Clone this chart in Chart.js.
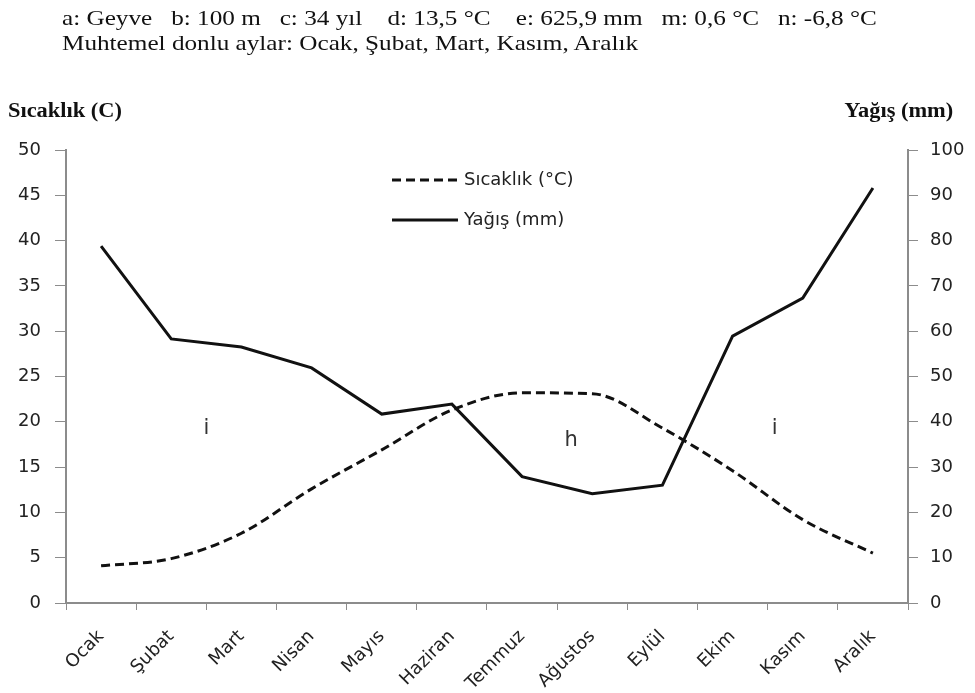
<!DOCTYPE html>
<html>
<head>
<meta charset="utf-8">
<script src="https://cdn.jsdelivr.net/npm/chart.js@4/dist/chart.umd.min.js"></script>
<style>
  body { margin: 0; background: #fff; }
  #wrap { position: relative; width: 975px; height: 693px; }
  #wrap canvas { position: absolute; left: 0; top: 0; }
  .hdr { position: absolute; left: 62px; font-family: "Liberation Serif", serif; font-size: 21px; color: #111; white-space: pre; transform: scaleX(1.2); transform-origin: left top; }
  .axt { position: absolute; top: 99px; font-family: "Liberation Serif", serif; font-weight: bold; font-size: 20px; color: #111; transform: scaleX(1.12); }
</style>
</head>
<body>
<div id="wrap">
  <canvas id="c" width="975" height="693"></canvas>
  <div class="hdr" style="top:6px;">a: Geyve   b: 100 m   c: 34 yıl    d: 13,5 °C    e: 625,9 mm   m: 0,6 °C   n: -6,8 °C</div>
  <div class="hdr" style="top:31px;">Muhtemel donlu aylar: Ocak, Şubat, Mart, Kasım, Aralık</div>
  <div class="axt" style="left:8px; transform-origin: left top;">Sıcaklık (C)</div>
  <div class="axt" style="right:22px; transform-origin: right top;">Yağış (mm)</div>
</div>
<script>
// Geyve climate diagram: temperature (dashed, left axis) and precipitation (solid, right axis)
const months = ['Ocak', 'Şubat', 'Mart', 'Nisan', 'Mayıs', 'Haziran', 'Temmuz', 'Ağustos', 'Eylül', 'Ekim', 'Kasım', 'Aralık'];
const temperature = [4.1, 4.9, 7.7, 12.6, 16.9, 21.3, 23.2, 23.1, 19.3, 14.6, 9.2, 5.5];
const precipitation = [78.8, 58.3, 56.5, 51.9, 41.7, 43.9, 27.9, 24.1, 26.0, 58.9, 67.3, 91.6];

// period letters (i = humid, h = dry) placed in category / temperature units
const periodLabels = ['i', 'h', 'i'];
const periodX = [1.5, 6.7, 9.6];
const periodY = [19.3, 17.9, 19.3];

const tickFont = { family: 'DejaVu Sans', size: 18 };
const axisGray = '#8c8c8c';

const overlay = {
    id: 'overlay',
    afterDatasetsDraw(chart) {
        const ctx = chart.ctx;
        const x = chart.scales.x, y = chart.scales.y;
        ctx.save();
        ctx.fillStyle = '#333';
        ctx.font = '21px "DejaVu Sans"';
        ctx.textAlign = 'center';
        ctx.textBaseline = 'middle';
        periodLabels.forEach((t, i) => {
            ctx.fillText(t, x.getPixelForValue(periodX[i]), y.getPixelForValue(periodY[i]));
        });

        // legend inside the plot
        const lx = x.left + 326, ly = y.top + 30;
        ctx.font = '18px "DejaVu Sans"';
        ctx.textAlign = 'left';
        ctx.fillStyle = '#222';
        chart.data.datasets.forEach((ds, i) => {
            const yy = ly + i * 40;
            ctx.strokeStyle = ds.borderColor;
            ctx.lineWidth = 3;
            ctx.setLineDash(ds.borderDash || []);
            ctx.beginPath();
            ctx.moveTo(lx, yy);
            ctx.lineTo(lx + 66, yy);
            ctx.stroke();
            ctx.setLineDash([]);
            ctx.fillText(ds.label, lx + 72, yy);
        });
        ctx.restore();
    }
};

new Chart(document.getElementById('c'), {
    type: 'line',
    data: {
        labels: months,
        datasets: [
            { label: 'Sıcaklık (°C)', data: temperature, yAxisID: 'y', borderColor: '#111', borderWidth: 3, borderDash: [9, 5], cubicInterpolationMode: 'monotone', pointRadius: 0, fill: false },
            { label: 'Yağış (mm)', data: precipitation, yAxisID: 'y1', borderColor: '#111', borderWidth: 3, tension: 0, pointRadius: 0, fill: false }
        ]
    },
    options: {
        responsive: false,
        animation: false,
        layout: { padding: { top: 150, left: 0, right: 0, bottom: 0 } },
        plugins: { legend: { display: false }, tooltip: { enabled: false } },
        scales: {
            x: {
                offset: true,
                grid: { display: true, offset: true, drawOnChartArea: false, drawTicks: true, tickLength: 7, color: axisGray },
                border: { display: true, color: axisGray, width: 2 },
                ticks: { font: { family: 'DejaVu Sans', size: 18 }, color: '#222', minRotation: 45, maxRotation: 45, padding: 16, autoSkip: false },
                afterFit: s => { s.height = 90; }
            },
            y: {
                position: 'left',
                min: 0, max: 50,
                ticks: { stepSize: 5, font: tickFont, color: '#222', padding: 14 },
                grid: { display: true, drawOnChartArea: false, drawTicks: true, tickLength: 11, color: axisGray },
                border: { display: true, color: axisGray, width: 2 },
                afterFit: s => { s.width = 66; }
            },
            y1: {
                position: 'right',
                min: 0, max: 100,
                ticks: { stepSize: 10, font: tickFont, color: '#222', padding: 12 },
                grid: { display: true, drawOnChartArea: false, drawTicks: true, tickLength: 10, color: axisGray },
                border: { display: true, color: axisGray, width: 2 },
                afterFit: s => { s.width = 67; }
            }
        }
    },
    plugins: [overlay]
});
</script>
</body>
</html>
